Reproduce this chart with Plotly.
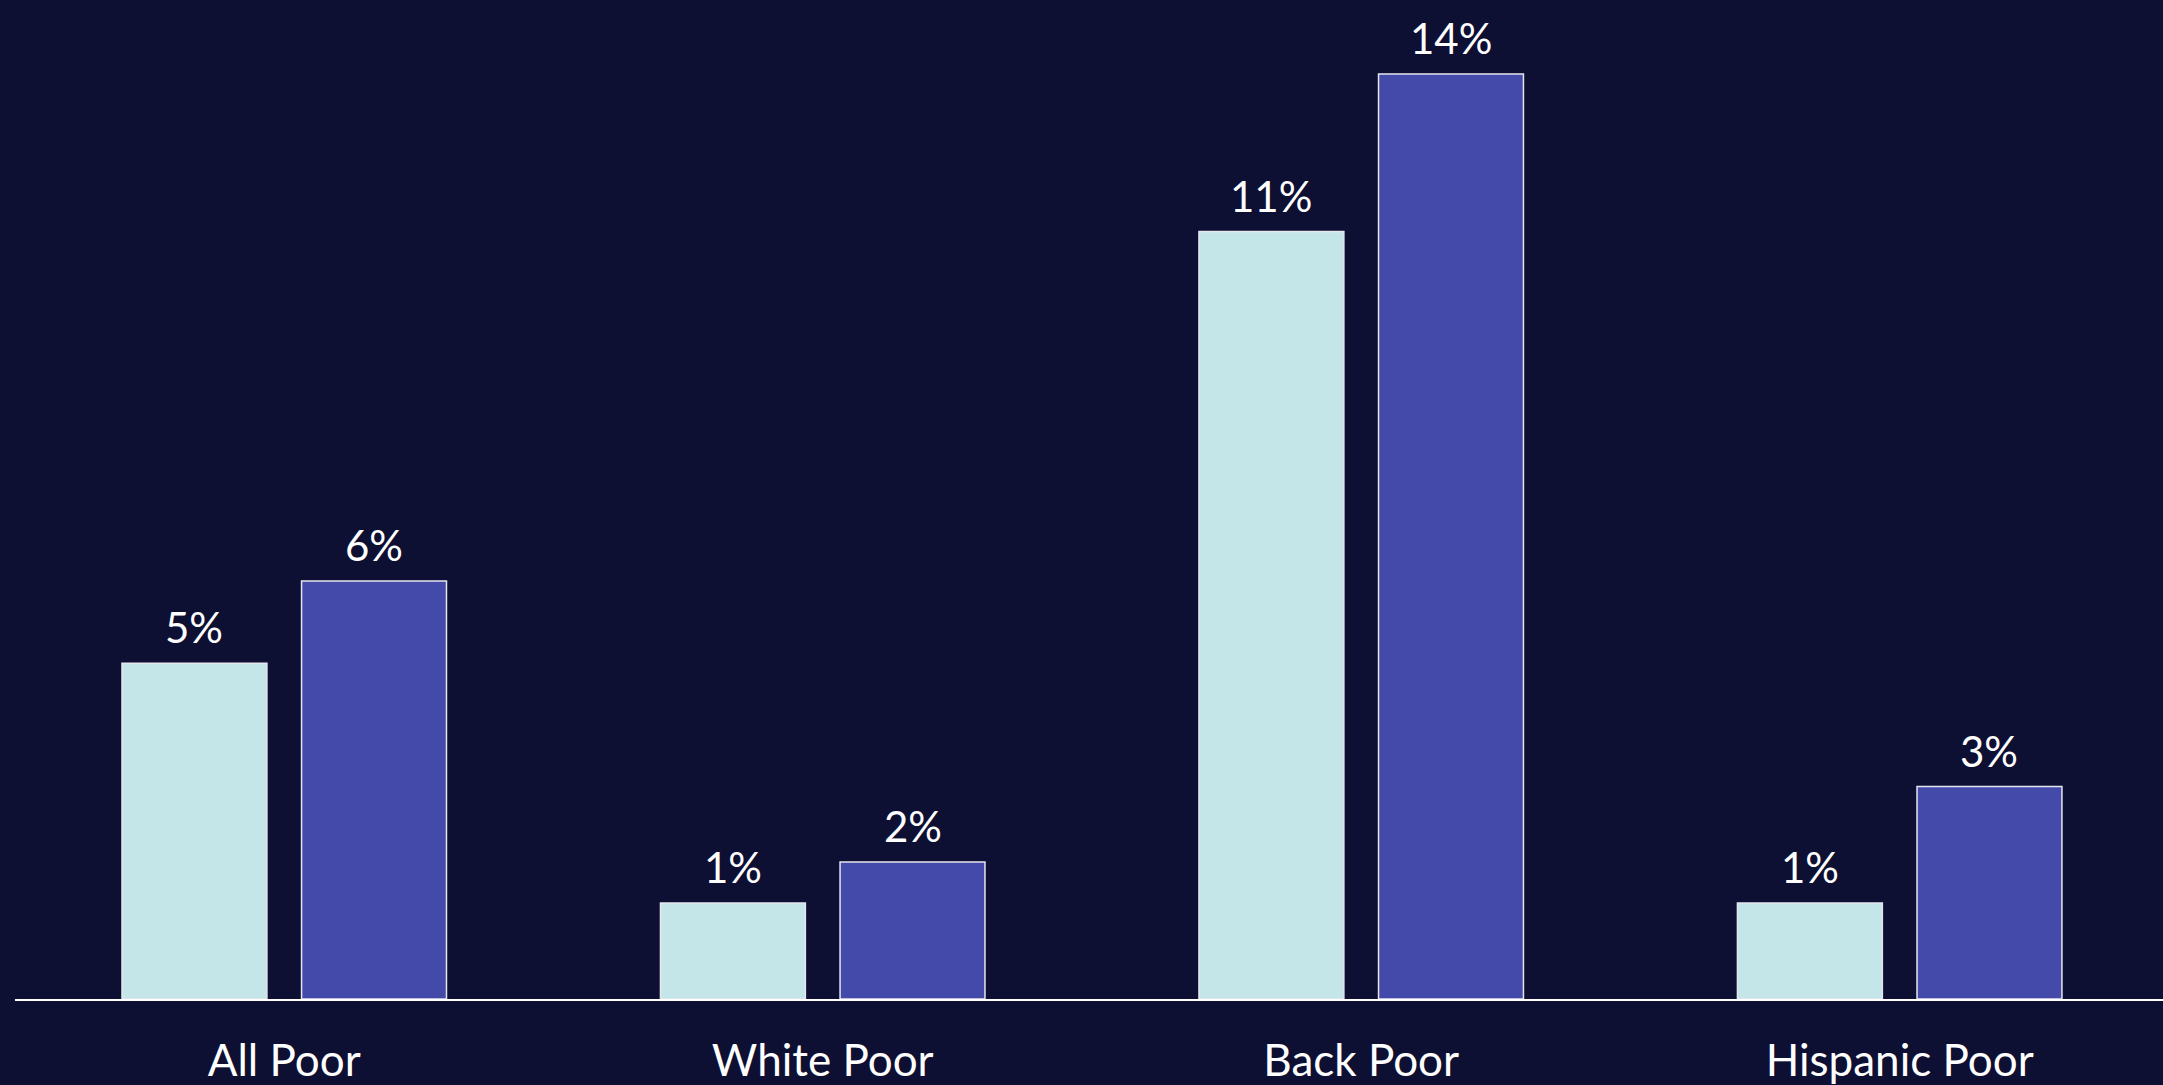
import plotly.graph_objects as go

categories = ["All Poor", "White Poor", "Back Poor", "Hispanic Poor"]
series_a = [4.9, 1.4, 11.2, 1.4]
series_b = [6.1, 2.0, 13.5, 3.1]

BG = "#0D0F33"
LIGHT = "#C5E6E8"
DARK = "#444AAA"
FONT = "Lato"

W, H = 2163, 1085
ML, MR, MT, MB = 15, 0, 0, 86
XR = [-0.5, 3.489]
BARGAP = 0.333
BARGROUPGAP = 0.193

fig = go.Figure()
for vals, col in ((series_a, LIGHT), (series_b, DARK)):
    fig.add_trace(go.Bar(
        x=categories, y=vals,
        marker=dict(color=col, line=dict(color="#E6E6EE", width=1.5)),
        hoverinfo="x+y",
    ))

# value labels placed above each bar, at the bar's centre within its group
cat_px = (W - ML - MR) / (XR[1] - XR[0])
slot_px = cat_px * (1 - BARGAP) / 2
for k, vals in enumerate((series_a, series_b)):
    shift = (k - 0.5) * slot_px
    for c, v in zip(categories, vals):
        fig.add_annotation(
            x=c, y=v, xref="x", yref="y",
            text=f"{v:.0f}%", showarrow=False,
            xanchor="center", yanchor="bottom",
            xshift=shift, yshift=9,
            font=dict(family=FONT, size=42, color="white"),
        )

fig.update_layout(
    width=W, height=H,
    paper_bgcolor=BG, plot_bgcolor=BG,
    margin=dict(l=ML, r=MR, t=MT, b=MB),
    barmode="group", bargap=BARGAP, bargroupgap=BARGROUPGAP,
    showlegend=False,
    font=dict(family=FONT, color="white", size=42),
    xaxis=dict(
        range=XR, automargin=False,
        showline=True, linecolor="white", linewidth=2,
        showgrid=False, zeroline=False,
        ticks="outside", ticklen=22, tickcolor="rgba(0,0,0,0)",
        tickfont=dict(family=FONT, size=44, color="white"),
    ),
    yaxis=dict(
        range=[0, 14.58], visible=False, showgrid=False, zeroline=False,
        automargin=False,
    ),
)

fig.write_html(
    "out.html",
    config={"displayModeBar": False},
    post_script="document.body.style.margin='0';document.body.style.overflow='hidden';",
)
